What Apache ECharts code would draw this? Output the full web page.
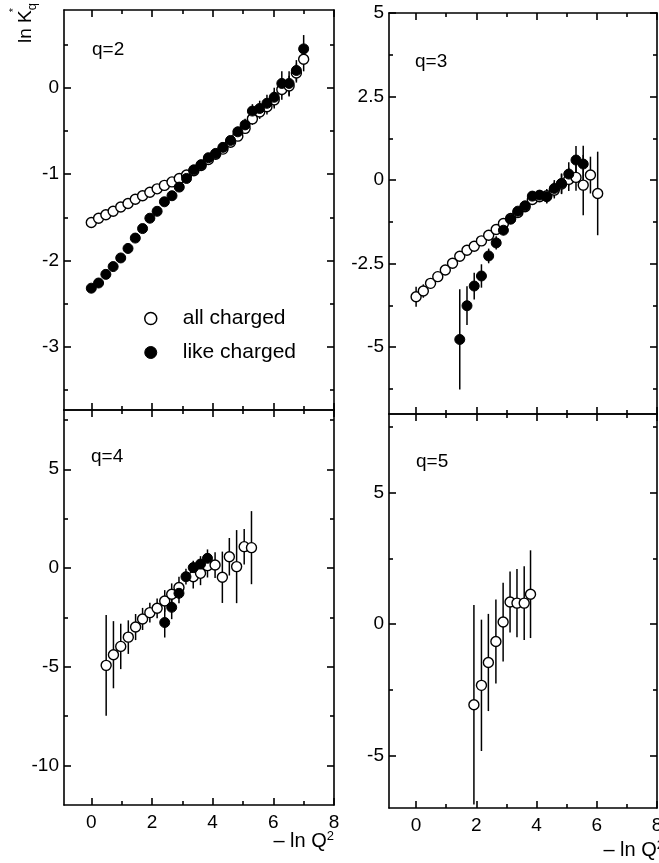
<!DOCTYPE html>
<html>
<head>
<meta charset="utf-8">
<script src="https://cdn.jsdelivr.net/npm/echarts@6/dist/echarts.min.js"></script>
<style>html,body{margin:0;padding:0;background:#fff}#c{width:659px;height:863px}</style>
</head>
<body>
<div id="c"></div>
<script>
// ---------- data ----------
const xTicks = [0, 2, 4, 6, 8];
const xMinorTicks = [1, 3, 5, 7];

// q = 2
const q2X = [0,0.24,0.48,0.72,0.97,1.21,1.45,1.69,1.93,2.17,2.41,2.66,2.90,3.14,3.38,3.62,3.86,4.10,4.34,4.59,4.83,5.07,5.31,5.55,5.79,6.03,6.28,6.52,6.76,7.00];
const q2All = [-1.56,-1.51,-1.47,-1.43,-1.38,-1.34,-1.29,-1.25,-1.21,-1.17,-1.13,-1.09,-1.05,-1.01,-0.96,-0.90,-0.83,-0.77,-0.71,-0.63,-0.56,-0.47,-0.36,-0.28,-0.22,-0.14,-0.02,0.02,0.17,0.33];
const q2AllErr = [0.02,0.02,0.02,0.02,0.02,0.02,0.02,0.02,0.02,0.02,0.02,0.02,0.02,0.03,0.03,0.03,0.03,0.03,0.04,0.04,0.05,0.06,0.07,0.08,0.09,0.10,0.12,0.12,0.11,0.14];
const q2Like = [-2.32,-2.26,-2.16,-2.07,-1.97,-1.86,-1.74,-1.63,-1.51,-1.43,-1.32,-1.25,-1.15,-1.05,-0.95,-0.89,-0.81,-0.76,-0.69,-0.61,-0.51,-0.43,-0.27,-0.24,-0.18,-0.11,0.05,0.05,0.20,0.45];
const q2LikeErr = [0.02,0.02,0.02,0.02,0.02,0.02,0.02,0.02,0.02,0.02,0.02,0.02,0.03,0.03,0.03,0.03,0.03,0.04,0.04,0.05,0.06,0.07,0.08,0.09,0.10,0.11,0.14,0.14,0.12,0.16];
const q2YTicks = [-3, -2, -1, 0];
const q2YMinor = [-3.5, -2.5, -1.5, -0.5, 0.5];

// q = 3
const q3AllX = [0,0.24,0.48,0.72,0.97,1.21,1.45,1.69,1.93,2.17,2.41,2.66,2.90,3.14,3.38,3.62,3.86,4.10,4.34,4.59,4.83,5.07,5.31,5.55,5.79,6.03];
const q3All = [-3.49,-3.32,-3.09,-2.89,-2.69,-2.49,-2.28,-2.10,-1.98,-1.82,-1.65,-1.48,-1.30,-1.15,-0.97,-0.80,-0.58,-0.50,-0.47,-0.30,-0.12,0.02,0.08,-0.15,0.15,-0.40];
const q3AllErr = [0.3,0.2,0.15,0.12,0.1,0.1,0.1,0.1,0.1,0.1,0.1,0.1,0.1,0.1,0.1,0.1,0.12,0.15,0.2,0.25,0.3,0.35,0.4,0.9,0.55,1.25];
const q3LikeX = [1.45,1.69,1.93,2.17,2.41,2.66,2.90,3.14,3.38,3.62,3.86,4.10,4.34,4.59,4.83,5.07,5.31,5.55];
const q3Like = [-4.77,-3.76,-3.17,-2.87,-2.27,-1.88,-1.50,-1.17,-0.93,-0.77,-0.48,-0.45,-0.50,-0.25,-0.10,0.18,0.60,0.48];
const q3LikeErr = [1.5,0.58,0.4,0.35,0.22,0.2,0.15,0.12,0.1,0.1,0.1,0.15,0.2,0.25,0.3,0.35,0.42,0.55];
const q3YTicks = [-5, -2.5, 0, 2.5, 5];
const q3YMinor = [-6.25, -3.75, -1.25, 1.25, 3.75];

// q = 4
const q4AllX = [0.49,0.73,0.97,1.22,1.46,1.69,1.93,2.17,2.42,2.65,2.89,3.36,3.60,3.83,4.08,4.32,4.55,4.79,5.04,5.28];
const q4All = [-4.93,-4.39,-3.97,-3.50,-2.99,-2.58,-2.26,-2.04,-1.67,-1.33,-0.99,-0.44,-0.27,0.12,0.15,-0.47,0.57,0.07,1.08,1.03];
const q4AllErr = [2.55,1.7,1.15,0.85,0.66,0.56,0.5,0.5,0.55,0.55,0.55,0.6,0.6,0.6,0.65,1.3,0.95,1.85,0.9,1.85];
const q4LikeX = [2.42,2.65,2.89,3.12,3.36,3.60,3.83];
const q4Like = [-2.76,-1.99,-1.28,-0.44,0.02,0.20,0.49];
const q4LikeErr = [0.76,0.6,0.5,0.4,0.35,0.4,0.45];
const q4YTicks = [-10, -5, 0, 5];
const q4YMinor = [-7.5, -2.5, 2.5, 7.5];

// q = 5
const q5AllX = [1.92,2.17,2.40,2.65,2.89,3.12,3.35,3.59,3.80];
const q5All = [-3.07,-2.33,-1.46,-0.66,0.08,0.84,0.80,0.80,1.14];
const q5AllErr = [3.8,2.5,1.85,1.6,1.5,1.16,1.3,1.4,1.67];
const q5YTicks = [-5, 0, 5];
const q5YMinor = [-2.5, 2.5, 7.5];

// ---------- layout ----------
const FONT = 'Liberation Sans';
const panels = [
  {grid:{left:64, top:10, width:270, height:400}, yMin:-3.73, yMax:0.9, yTicks:q2YTicks, yMinor:q2YMinor, xLabels:false,
   all:[q2X,q2All,q2AllErr], like:[q2X,q2Like,q2LikeErr]},
  {grid:{left:389, top:13, width:268, height:401}, yMin:-7, yMax:5, yTicks:q3YTicks, yMinor:q3YMinor, xLabels:false,
   all:[q3AllX,q3All,q3AllErr], like:[q3LikeX,q3Like,q3LikeErr]},
  {grid:{left:64, top:410, width:270, height:395}, yMin:-12, yMax:8, yTicks:q4YTicks, yMinor:q4YMinor, xLabels:true,
   all:[q4AllX,q4All,q4AllErr], like:[q4LikeX,q4Like,q4LikeErr]},
  {grid:{left:389, top:414, width:268, height:394}, yMin:-7, yMax:8, yTicks:q5YTicks, yMinor:q5YMinor, xLabels:true,
   all:[q5AllX,q5All,q5AllErr], like:null}
];

const grids = [], xAxes = [], yAxes = [], series = [];
const lineStyle = {color:'#000', width:1.6};
const labelStyle = {color:'#000', fontSize:19, fontFamily:FONT};
const openStyle = {color:'#fff', borderColor:'#000', borderWidth:1.4, opacity:1};
const filledStyle = {color:'#000', borderColor:'#000', borderWidth:1, opacity:1};

function axisBase(extra) {
  return Object.assign({type:'value', splitLine:{show:false}, axisPointer:{show:false}}, extra);
}

panels.forEach((p, g) => {
  grids.push(Object.assign({containLabel:false, outerBoundsMode:'none'}, p.grid));
  const xr = {min:-0.9, max:8, gridIndex:g};
  xAxes.push(axisBase(Object.assign({}, xr, {position:'bottom',
    axisLine:{show:true, onZero:false, lineStyle},
    axisTick:{show:true, inside:true, length:7, customValues:xTicks, lineStyle},
    axisLabel:{show:p.xLabels, customValues:xTicks, margin:8, ...labelStyle}})));
  xAxes.push(axisBase(Object.assign({}, xr, {position:'bottom',
    axisLine:{show:false, onZero:false},
    axisTick:{show:true, inside:true, length:4, customValues:xMinorTicks, lineStyle},
    axisLabel:{show:false}})));
  xAxes.push(axisBase(Object.assign({}, xr, {position:'top',
    axisLine:{show:true, onZero:false, lineStyle},
    axisTick:{show:true, inside:true, length:7, customValues:xTicks, lineStyle},
    axisLabel:{show:false}})));
  xAxes.push(axisBase(Object.assign({}, xr, {position:'top',
    axisLine:{show:false, onZero:false},
    axisTick:{show:true, inside:true, length:4, customValues:xMinorTicks, lineStyle},
    axisLabel:{show:false}})));
  const yr = {min:p.yMin, max:p.yMax, gridIndex:g};
  yAxes.push(axisBase(Object.assign({}, yr, {position:'left',
    axisLine:{show:true, onZero:false, lineStyle},
    axisTick:{show:true, inside:true, length:7, customValues:p.yTicks, lineStyle},
    axisLabel:{show:true, customValues:p.yTicks, margin:5, ...labelStyle}})));
  yAxes.push(axisBase(Object.assign({}, yr, {position:'left',
    axisLine:{show:false, onZero:false},
    axisTick:{show:true, inside:true, length:4, customValues:p.yMinor, lineStyle},
    axisLabel:{show:false}})));
  yAxes.push(axisBase(Object.assign({}, yr, {position:'right',
    axisLine:{show:true, onZero:false, lineStyle},
    axisTick:{show:true, inside:true, length:7, customValues:p.yTicks, lineStyle},
    axisLabel:{show:false}})));
  yAxes.push(axisBase(Object.assign({}, yr, {position:'right',
    axisLine:{show:false, onZero:false},
    axisTick:{show:true, inside:true, length:4, customValues:p.yMinor, lineStyle},
    axisLabel:{show:false}})));

  const xi = 4 * g, yi = 4 * g;
  const sets = [['all charged', p.all, false], ['like charged', p.like, true]];
  sets.forEach(([name, set, filled]) => {
    if (!set) return;
    const [xs, ys, es] = set;
    series.push({
      type:'custom', name:name, xAxisIndex:xi, yAxisIndex:yi, silent:true, z:2,
      itemStyle: filled ? filledStyle : openStyle,
      data: xs.map((x, i) => [x, ys[i], es[i]]),
      encode:{x:0, y:1},
      renderItem(params, api) {
        const x = api.value(0), y = api.value(1), e = api.value(2);
        const a = api.coord([x, y - e]), b = api.coord([x, y + e]);
        const cs = params.coordSys;
        const clamp = v => Math.max(cs.y, Math.min(cs.y + cs.height, v));
        return {type:'line', shape:{x1:a[0], y1:clamp(a[1]), x2:b[0], y2:clamp(b[1])},
                style:{stroke:'#000', lineWidth:1.5}};
      }
    });
  });
  sets.forEach(([name, set, filled]) => {
    if (!set) return;
    const [xs, ys] = set;
    series.push({
      type:'scatter', name:name, xAxisIndex:xi, yAxisIndex:yi, z:filled ? 4 : 3,
      symbol:'circle', symbolSize:10,
      itemStyle: filled ? filledStyle : openStyle,
      emphasis:{disabled:true},
      data: xs.map((x, i) => [x, ys[i]])
    });
  });
});

const txt = (x, y, text, size, extra) => ({type:'text', x, y, silent:true,
  style:Object.assign({text, fill:'#000', font:size + 'px "' + FONT + '"', align:'left', verticalAlign:'middle'}, extra || {})});

const option = {
  animation:false,
  backgroundColor:'#fff',
  color:['#000'],
  textStyle:{fontFamily:FONT},
  grid:grids, xAxis:xAxes, yAxis:yAxes, series:series,
  legend:{
    data:[{name:'all charged', icon:'circle', itemStyle:{color:'#fff', borderColor:'#000', borderWidth:1.5}},
          {name:'like charged', icon:'circle', itemStyle:{color:'#000', borderColor:'#000', borderWidth:1}}],
    orient:'vertical', left:139, top:303, itemWidth:12, itemHeight:12, itemGap:13,
    selectedMode:false,
    textStyle:{fontSize:21, color:'#000', fontFamily:FONT, padding:[0,0,0,21], lineHeight:21}
  },
  graphic:[
    txt(92, 50, 'q=2', 19),
    txt(415, 62, 'q=3', 19),
    txt(91, 457, 'q=4', 19),
    txt(416, 462, 'q=5', 19),
    {type:'text', x:24, y:23, rotation:Math.PI/2, silent:true,
     style:{text:'{a|ln K}{b|q}', align:'center', verticalAlign:'middle',
            rich:{a:{fontSize:19, fontFamily:FONT, fill:'#000', lineHeight:22, verticalAlign:'bottom'},
                  b:{fontSize:13, fontFamily:FONT, fill:'#000', lineHeight:22, verticalAlign:'bottom', padding:[0,0,-4,0]}}}},
    {type:'text', x:14, y:10, rotation:Math.PI/2, silent:true,
     style:{text:'*', fill:'#000', font:'11px "' + FONT + '"', align:'center', verticalAlign:'middle'}},
    {type:'text', x:334, y:841, silent:true,
     style:{text:'{a|– ln Q}{b|2}', align:'right', verticalAlign:'middle',
            rich:{a:{fontSize:20, fontFamily:FONT, fill:'#000', lineHeight:22},
                  b:{fontSize:13, fontFamily:FONT, fill:'#000', lineHeight:22, verticalAlign:'top', padding:[0,0,6,0]}}}},
    {type:'text', x:664, y:850, silent:true,
     style:{text:'{a|– ln Q}{b|2}', align:'right', verticalAlign:'middle',
            rich:{a:{fontSize:20, fontFamily:FONT, fill:'#000', lineHeight:22},
                  b:{fontSize:13, fontFamily:FONT, fill:'#000', lineHeight:22, verticalAlign:'top', padding:[0,0,6,0]}}}}
  ]
};

const chart = echarts.init(document.getElementById('c'), null, {renderer:'canvas'});
chart.setOption(option);
</script>
</body>
</html>
